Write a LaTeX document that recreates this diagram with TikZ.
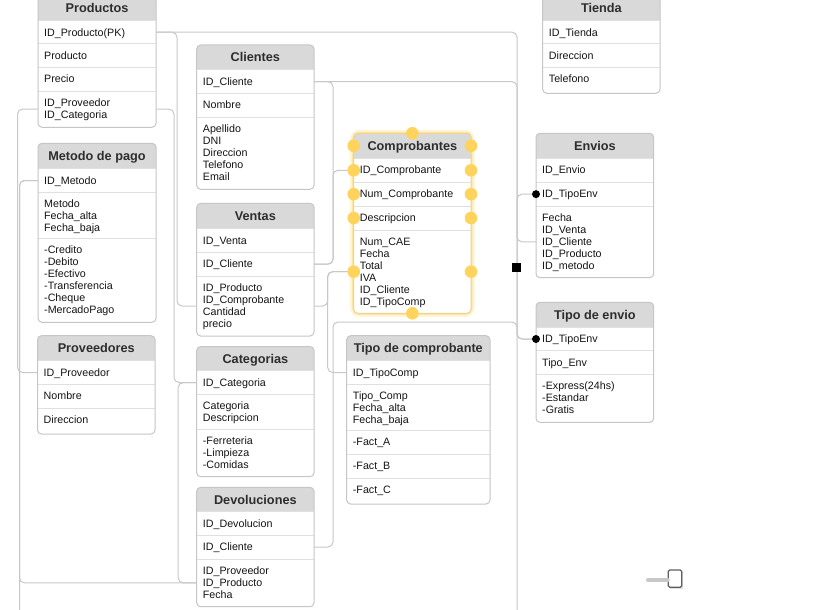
\documentclass[tikz,border=0pt]{standalone}
\usepackage{fontspec}
\setmainfont{Liberation Sans}
\definecolor{hdr}{RGB}{217,217,217}
\definecolor{bord}{RGB}{198,198,198}
\definecolor{sepc}{RGB}{224,224,224}
\definecolor{connc}{RGB}{200,200,200}
\definecolor{txt}{RGB}{20,20,20}
\definecolor{ttl}{RGB}{45,45,45}
\definecolor{dotc}{RGB}{255,211,92}
\definecolor{glowa}{RGB}{255,244,212}
\definecolor{glowb}{RGB}{255,230,160}
\definecolor{compbord}{RGB}{235,212,150}
\tikzset{
  conn/.style={draw=connc, line width=1pt, rounded corners=5pt},
  rowtext/.style={font=\fontsize{10.7}{12}\selectfont, text=txt, inner sep=0pt, anchor=base west},
  titletext/.style={font=\fontsize{12.7}{14}\selectfont\bfseries, text=ttl, inner sep=0pt, anchor=base},
  area/.style={inner sep=0pt, outer sep=0pt, draw=none},
  ydot/.style={circle, fill=dotc, inner sep=0pt, minimum size=12.6pt},
  bdot/.style={circle, fill=black, inner sep=0pt, minimum size=8pt},
  sqhandle/.style={fill=black, inner sep=0pt, minimum size=9pt},
  knobstyle/.style={draw={rgb,255:red,95;green,95;blue,95}, fill=white, line width=1.2pt, rounded corners=1.5pt, inner sep=0pt, minimum width=13.4pt, minimum height=17.3pt},
}
% #1 name #2 xl #3 xr #4 ytop #5 yhb #6 ybot #7 title
\newcommand\ERtable[7]{%
  \begin{scope}
    \clip[rounded corners=4pt] (#2,#4) rectangle (#3,#6);
    \fill[white] (#2,#4) rectangle (#3,#6);
    \fill[hdr] (#2,#4) rectangle (#3,#5);
  \end{scope}
  \node[area, minimum width={(#3-#2)*1pt}, minimum height={(#5-#4)*1pt}] (#1) at ({(#2+#3)/2},{(#4+#5)/2}) {};
  \node[titletext] (#1-t) at ({(#2+#3)/2},{(#4+#5)/2+4.5}) {#7};
}
% #1 name #2 xl #3 xr #4 y1 #5 y2 #6 lines
\newcommand\ERrow[6]{%
  \draw[sepc, line width=1pt] (#2,#4) -- (#3,#4);
  \node[area, minimum width={(#3-#2)*1pt}, minimum height={(#5-#4)*1pt}] (#1) at ({(#2+#3)/2},{(#4+#5)/2}) {};
  \foreach \ln [count=\i from 0] in {#6} \node[rowtext] (#1-\i) at ({#2+6},{#4+15.5+12*\i}) {\ln};
}
\newcommand\ERframe[5]{%
  \draw[#5, line width=1pt, rounded corners=4pt] (#1,#3) rectangle (#2,#4);
}
\begin{document}
\begin{tikzpicture}[x=1pt,y=-1pt]
\useasboundingbox (0,0) rectangle (819,610);
\fill[white] (0,0) rectangle (819,610);

% ---------- Productos
\ERtable{prod}{38}{156}{-4}{20.7}{127.3}{Productos}
\ERrow{prodA}{38}{156}{20.7}{43.7}{ID\_Producto(PK)}
\ERrow{prodB}{38}{156}{43.7}{67.3}{Producto}
\ERrow{prodC}{38}{156}{67.3}{91}{Precio}
\ERrow{prodD}{38}{156}{91}{127.3}{ID\_Proveedor,ID\_Categoria}
\ERframe{38}{156}{-4}{127.3}{bord}

% ---------- Metodo de pago
\ERtable{met}{38}{156}{143.3}{168.7}{322.3}{Metodo de pago}
\ERrow{metA}{38}{156}{168.7}{192.3}{ID\_Metodo}
\ERrow{metB}{38}{156}{192.3}{238.3}{Metodo,Fecha\_alta,Fecha\_baja}
\ERrow{metC}{38}{156}{238.3}{322.3}{-Credito,-Debito,-Efectivo,-Transferencia,-Cheque,-MercadoPago}
\ERframe{38}{156}{143.3}{322.3}{bord}

% ---------- Proveedores
\ERtable{prov}{37.5}{155}{335.7}{360.7}{434}{Proveedores}
\ERrow{provA}{37.5}{155}{360.7}{384.3}{ID\_Proveedor}
\ERrow{provB}{37.5}{155}{384.3}{408.3}{Nombre}
\ERrow{provC}{37.5}{155}{408.3}{434}{Direccion}
\ERframe{37.5}{155}{335.7}{434}{bord}

% ---------- Clientes
\ERtable{cli}{196.7}{314}{45}{70}{189.3}{Clientes}
\ERrow{cliA}{196.7}{314}{70}{93.3}{ID\_Cliente}
\ERrow{cliB}{196.7}{314}{93.3}{117.3}{Nombre}
\ERrow{cliC}{196.7}{314}{117.3}{189.3}{Apellido,DNI,Direccion,Telefono,Email}
\ERframe{196.7}{314}{45}{189.3}{bord}

% ---------- Ventas
\ERtable{vent}{196.7}{314}{203.3}{228.7}{336}{Ventas}
\ERrow{ventA}{196.7}{314}{228.7}{252.3}{ID\_Venta}
\ERrow{ventB}{196.7}{314}{252.3}{276}{ID\_Cliente}
\ERrow{ventC}{196.7}{314}{276}{336}{ID\_Producto,ID\_Comprobante,Cantidad,precio}
\ERframe{196.7}{314}{203.3}{336}{bord}

% ---------- Categorias
\ERtable{cat}{196.7}{314}{346.5}{370.7}{476.7}{Categorias}
\ERrow{catA}{196.7}{314}{370.7}{394.3}{ID\_Categoria}
\ERrow{catB}{196.7}{314}{394.3}{429.3}{Categoria,Descripcion}
\ERrow{catC}{196.7}{314}{429.3}{476.7}{-Ferreteria,-Limpieza,-Comidas}
\ERframe{196.7}{314}{346.5}{476.7}{bord}

% ---------- Devoluciones
\ERtable{dev}{196.7}{314}{487.3}{511.7}{606.7}{Devoluciones}
\ERrow{devA}{196.7}{314}{511.7}{535}{ID\_Devolucion}
\ERrow{devB}{196.7}{314}{535}{559}{ID\_Cliente}
\ERrow{devC}{196.7}{314}{559}{606.7}{ID\_Proveedor,ID\_Producto,Fecha}
\ERframe{196.7}{314}{487.3}{606.7}{bord}

% ---------- Tipo de comprobante
\ERtable{tc}{346.7}{490}{335.7}{360.7}{504}{Tipo de comprobante}
\ERrow{tcA}{346.7}{490}{360.7}{384.3}{ID\_TipoComp}
\ERrow{tcB}{346.7}{490}{384.3}{430}{Tipo\_Comp,Fecha\_alta,Fecha\_baja}
\ERrow{tcC}{346.7}{490}{430}{454.3}{-Fact\_A}
\ERrow{tcD}{346.7}{490}{454.3}{478.3}{-Fact\_B}
\ERrow{tcE}{346.7}{490}{478.3}{504}{-Fact\_C}
\ERframe{346.7}{490}{335.7}{504}{bord}

% ---------- Tienda
\ERtable{tie}{542.7}{660}{-4}{20.7}{93.3}{Tienda}
\ERrow{tieA}{542.7}{660}{20.7}{43.7}{ID\_Tienda}
\ERrow{tieB}{542.7}{660}{43.7}{67.3}{Direccion}
\ERrow{tieC}{542.7}{660}{67.3}{93.3}{Telefono}
\ERframe{542.7}{660}{-4}{93.3}{bord}

% ---------- Envios
\ERtable{env}{536}{653.7}{133.3}{158.3}{277.7}{Envios}
\ERrow{envA}{536}{653.7}{158.3}{182.3}{ID\_Envio}
\ERrow{envB}{536}{653.7}{182.3}{206}{ID\_TipoEnv}
\ERrow{envC}{536}{653.7}{206}{277.7}{Fecha,ID\_Venta,ID\_Cliente,ID\_Producto,ID\_metodo}
\ERframe{536}{653.7}{133.3}{277.7}{bord}

% ---------- Tipo de envio
\ERtable{tenv}{536}{653.7}{302.3}{327.3}{422.3}{Tipo de envio}
\ERrow{tenvA}{536}{653.7}{327.3}{350.7}{ID\_TipoEnv}
\ERrow{tenvB}{536}{653.7}{350.7}{374.3}{Tipo\_Env}
\ERrow{tenvC}{536}{653.7}{374.3}{422.3}{-Express(24hs),-Estandar,-Gratis}
\ERframe{536}{653.7}{302.3}{422.3}{bord}

% ---------- Comprobantes (selected)
\draw[glowa, line width=7pt, rounded corners=6pt] (353.7,133.3) rectangle (471,313.3);
\draw[glowb, line width=3pt, rounded corners=5pt] (353.7,133.3) rectangle (471,313.3);
\ERtable{comp}{353.7}{471}{133.3}{158.3}{313.3}{Comprobantes}
\ERrow{compA}{353.7}{471}{158.3}{182.3}{ID\_Comprobante}
\ERrow{compB}{353.7}{471}{182.3}{206}{Num\_Comprobante}
\ERrow{compC}{353.7}{471}{206}{230}{Descripcion}
\ERrow{compD}{353.7}{471}{230}{313.3}{Num\_CAE,Fecha,Total,IVA,ID\_Cliente,ID\_TipoComp}
\ERframe{353.7}{471}{133.3}{313.3}{compbord}

% ---------- connectors
\coordinate (offR) at (517,615);
\coordinate (offL) at (19.5,615);
\draw[conn] (prodA.east) -- ++(21,0) |- (ventC.west);
\draw[conn] (prodA.east) -| (offR);
\draw[conn] (prodD.east) -- ++(18,0) |- (catA.west);
\draw[conn] (prodD.west) -- ++(-20.5,0) |- (provA.west);
\draw[conn] (metA.west) -- ++(-18.5,0) -- (offL);
\draw[conn] (devC.west) -- ++(-177.2,0) |- (metA.west);
\draw[conn] (devC.west) -- ++(-18.5,0) |- (catA.west);
\draw[conn] (cliA.east) -- ++(19,0) |- (ventB.east);
\draw[conn] (cliA.east) -| ([xshift=-19pt]envC.west) -- (envC.west);
\draw[conn] (compA.west) -- ++(-20.7,0) |- (ventB.east);
\draw[conn] (ventC.east) -- ++(13.7,0) |- (compD.west);
\draw[conn] (tcA.west) -- ++(-19,0) |- (compD.west);
\draw[conn] (devB.east) -- ++(19,0) |- (517,322) |- (tenvA.west);
\draw[conn] (envB.west) -- ++(-19,0) |- (tenvA.west);

\foreach \a [count=\k] in {comp.west,compA.west,compB.west,compC.west,compD.west,comp.east,compA.east,compB.east,compC.east,compD.east,comp.north,compD.south}
  \node[ydot] (yd\k) at (\a) {};

% ---------- end markers and handles
\node[bdot] (dotE) at (envB.west) {};
\node[bdot] (dotT) at (tenvA.west) {};
\node[sqhandle] (sqh) at (516.7,267) {};

% ---------- slider
\coordinate (sl1) at (648,580);
\fill[black!12] (669.8,571.5) rectangle (683.2,588.8);
\node[knobstyle] (knob) at (675,578.6) {};
\draw[line width=4pt, line cap=round, color={rgb,255:red,200;green,200;blue,200}] (sl1) -- (sl1 -| knob.west);
\end{tikzpicture}
\end{document}
